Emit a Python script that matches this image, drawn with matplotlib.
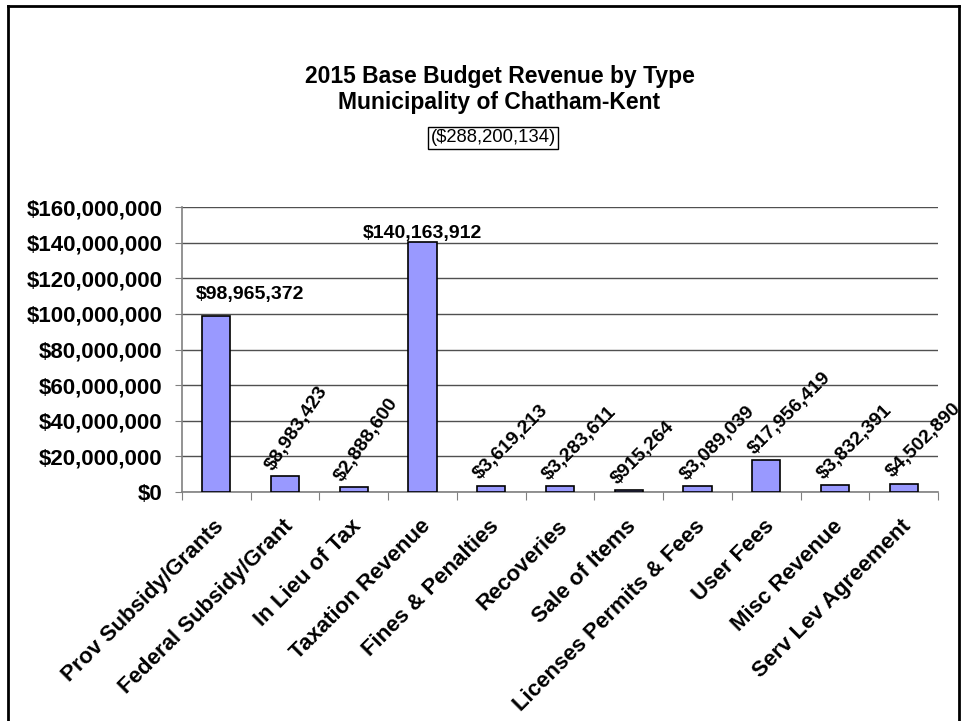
import matplotlib
matplotlib.use("Agg")
import matplotlib.pyplot as plt
from matplotlib.lines import Line2D
from matplotlib.ticker import FuncFormatter

categories = ["Prov Subsidy/Grants", "Federal Subsidy/Grant", "In Lieu of Tax",
              "Taxation Revenue", "Fines & Penalties", "Recoveries", "Sale of Items",
              "Licenses Permits & Fees", "User Fees", "Misc Revenue", "Serv Lev Agreement"]
values = [98965372, 8983423, 2888600, 140163912, 3619213, 3283611, 915264,
          3089039, 17956419, 3832391, 4502890]
yticks = [0, 20000000, 40000000, 60000000, 80000000, 100000000, 120000000, 140000000, 160000000]
title_lines = ["2015 Base Budget Revenue by Type", "Municipality of Chatham-Kent"]
total_label = "($288,200,134)"

plt.rcParams['font.family'] = ['Liberation Sans', 'DejaVu Sans']

fig = plt.figure(figsize=(9.67, 7.21), dpi=100)
fig.patch.set_facecolor("white")
ax = fig.add_axes([182/967, 1-492/721, (938-182)/967, (492-207)/721])

x = list(range(len(categories)))
ax.bar(x, values, width=0.41, color="#9999FF", edgecolor="black", linewidth=1.2, zorder=3)
ax.set_xlim(-0.5, len(categories)-0.5)
ax.set_ylim(0, 160000000)
ax.set_yticks(yticks)
ax.yaxis.set_major_formatter(FuncFormatter(lambda v, p: "${:,.0f}".format(v)))
ax.yaxis.grid(True, color="#505050", linewidth=1.0, zorder=0)
for lab in ax.get_yticklabels():
    lab.set_fontweight("bold")
    lab.set_fontsize(16)
ax.tick_params(axis="y", length=5, color="#808080", pad=9)

ax.set_xticks([i - 0.5 for i in range(len(categories)+1)])
ax.set_xticklabels([])
ax.tick_params(axis="x", length=6, color="#808080", direction="out")
for s in ["top", "right"]:
    ax.spines[s].set_visible(False)
for s in ["left", "bottom"]:
    ax.spines[s].set_color("#808080")
    ax.spines[s].set_linewidth(1.2)

# category labels
for i, c in enumerate(categories):
    ax.annotate(c, xy=(i, 0), xycoords=("data", "axes fraction"),
                xytext=(-2, -17), textcoords="offset points",
                rotation=45, rotation_mode="anchor", ha="right", va="top",
                fontsize=16, fontweight="bold")

# value labels
steep = {1: 56, 2: 55}
for i, v in enumerate(values):
    txt = "${:,.0f}".format(v)
    if v > 50000000:
        dx = 24 if i == 0 else 0
        dy = 9 if i == 0 else 0
        ax.annotate(txt, xy=(i, v), xytext=(dx, dy), textcoords="offset points",
                    ha="center", va="bottom", fontsize=14, fontweight="bold")
    else:
        ax.annotate(txt, xy=(i, v), xytext=(-6, 2), textcoords="offset points",
                    rotation=steep.get(i, 45), rotation_mode="anchor", ha="left", va="bottom",
                    fontsize=14, fontweight="bold")

fig.text(500/967, 1-77/721, title_lines[0], ha="center", va="center",
         fontsize=16.5, fontweight="bold")
fig.text(499/967, 1-103/721, title_lines[1], ha="center", va="center",
         fontsize=16.5, fontweight="bold")
fig.text(493/967, 1-138/721, total_label, ha="center", va="center", fontsize=13.3,
         bbox=dict(boxstyle="square,pad=0.15", facecolor="white", edgecolor="black", linewidth=1))

# outer frame
lw = 2.0
fig.add_artist(Line2D([8/967, 8/967], [0, 1-6/721], transform=fig.transFigure, color="black", linewidth=lw))
fig.add_artist(Line2D([8/967, 959/967], [1-6/721, 1-6/721], transform=fig.transFigure, color="black", linewidth=lw))
fig.add_artist(Line2D([959/967, 959/967], [0, 1-6/721], transform=fig.transFigure, color="black", linewidth=lw))

fig.savefig("out.png", dpi=100)
